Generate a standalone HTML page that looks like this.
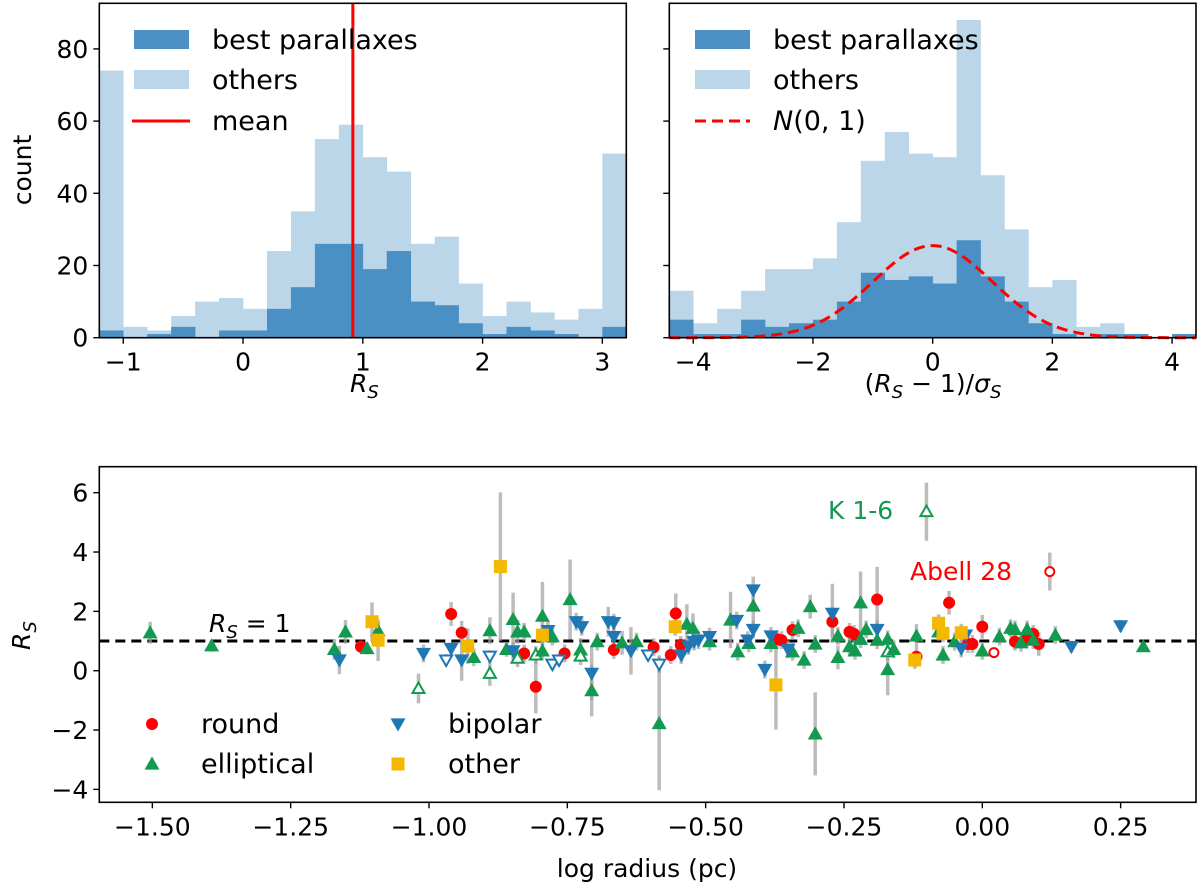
<!DOCTYPE html>
<html><head><meta charset="utf-8"><style>
html,body{margin:0;padding:0;background:#fff;}
svg{display:block;font-family:"DejaVu Sans","Liberation Sans",sans-serif;}
</style></head><body>
<svg id="fig" width="1200" height="888" viewBox="0 0 1200 888" xmlns="http://www.w3.org/2000/svg">
<g id="g1"></g>
<g id="g2"></g>
<g id="g3"></g>
</svg>
<script>
// ---- histogram data ----
const hist1Edges0 = -1.2, hist1BinW = 0.2;
const hist1Others = [74,3,2,6,10,11,8,24,35,55,59,50,46,26,28,15,6,10,7,5,8,51];
const hist1Best   = [2,0,1,3,0,2,2,8,14,26,26,19,24,10,9,4,1,3,2,1,0,3];
const meanValue = 0.917;
const hist1XTicks = [-1,0,1,2,3];
const histYTicks = [0,20,40,60,80];

const hist2Edges0 = -4.4, hist2BinW = 0.4;
const hist2Others = [13,4,8,13,19,19,22,32,49,57,51,50,88,45,30,14,16,3,4,1,0,1];
const hist2Best   = [5,1,1,5,3,4,5,10,18,16,17,15,27,17,10,4,1,0,1,1,0,1];
const gaussPeak = 25.5;
const hist2XTicks = [-4,-2,0,2,4];

// ---- scatter data: [logR, Rs, err, open] ----
const roundPts = [[-1.123,0.81,0.2,0],[-0.960,1.91,0.4,0],[-0.941,1.28,0.4,0],[-0.828,0.58,0.3,0],[-0.807,-0.54,0.9,0],[-0.755,0.58,0.3,0],[-0.666,0.70,0.3,0],[-0.594,0.79,0.3,0],[-0.563,0.53,0.3,0],[-0.554,1.93,0.67,0],[-0.545,0.87,0.3,0],[-0.371,1.06,0.3,0],[-0.363,1.03,0.3,0],[-0.343,1.37,0.3,0],[-0.271,1.65,0.5,0],[-0.240,1.31,0.3,0],[-0.232,1.24,0.3,0],[-0.190,2.40,1.1,0],[-0.119,0.47,0.3,0],[-0.060,2.29,0.4,0],[-0.026,0.90,0.3,0],[-0.018,0.90,0.3,0],[0.000,1.48,0.4,0],[0.021,0.61,0.1,1],[0.059,0.98,0.3,0],[0.080,1.06,0.3,0],[0.092,1.24,0.3,0],[0.102,0.90,0.4,0],[0.122,3.34,0.64,1]];
const ellipticalPts = [[-1.504,1.28,0.37,0],[-1.393,0.84,0.2,0],[-1.171,0.72,0.35,0],[-1.151,1.31,0.4,0],[-1.112,0.75,0.2,0],[-1.092,1.35,0.3,0],[-1.019,-0.6,0.5,1],[-0.919,0.45,0.3,0],[-0.890,1.35,0.45,0],[-0.890,-0.09,0.42,1],[-0.860,0.72,0.25,0],[-0.848,1.73,0.9,0],[-0.840,1.31,0.4,0],[-0.840,0.42,0.3,1],[-0.828,1.31,0.3,0],[-0.807,0.53,0.3,1],[-0.795,1.84,1.15,0],[-0.795,0.67,0.3,0],[-0.777,1.15,0.3,0],[-0.745,2.40,1.35,0],[-0.726,0.70,0.4,0],[-0.726,0.49,0.3,1],[-0.706,-0.67,0.87,0],[-0.696,0.98,0.3,0],[-0.651,0.94,0.4,0],[-0.625,0.98,0.3,0],[-0.584,-1.78,2.25,0],[-0.534,1.57,0.67,0],[-0.523,1.43,0.5,0],[-0.493,0.98,0.3,0],[-0.455,1.71,0.95,0],[-0.442,0.64,0.3,0],[-0.422,0.92,0.3,0],[-0.414,2.18,0.6,0],[-0.382,0.92,0.3,0],[-0.343,0.64,0.3,0],[-0.333,1.43,0.3,0],[-0.322,0.36,0.3,0],[-0.311,2.16,0.4,0],[-0.302,-2.13,1.4,0],[-0.302,0.90,0.3,0],[-0.261,1.17,0.3,0],[-0.261,0.45,0.4,0],[-0.240,0.81,0.3,0],[-0.230,0.67,0.3,0],[-0.220,2.29,1.05,0],[-0.220,1.06,0.3,0],[-0.210,1.39,0.3,0],[-0.190,1.03,0.3,0],[-0.171,1.06,0.3,0],[-0.171,0.64,0.3,1],[-0.171,0.04,0.87,0],[-0.160,0.72,0.3,0],[-0.119,1.17,0.4,0],[-0.101,5.36,0.98,1],[-0.079,1.31,0.3,0],[-0.071,0.53,0.3,0],[-0.050,0.98,0.3,0],[0.000,0.67,0.3,0],[0.031,1.15,0.3,0],[0.051,1.43,0.3,0],[0.059,1.39,0.3,0],[0.070,0.94,0.3,0],[0.081,1.39,0.3,0],[0.092,1.03,0.3,0],[0.132,1.20,0.3,0],[0.291,0.81,0.1,0]];
const bipolarPts = [[-1.162,0.36,0.48,0],[-1.010,0.58,0.3,0],[-0.969,0.36,0.2,1],[-0.960,0.75,0.2,0],[-0.941,0.36,0.7,0],[-0.890,0.49,0.2,1],[-0.848,0.67,0.3,0],[-0.785,1.35,0.3,0],[-0.777,0.22,0.2,1],[-0.765,0.36,0.2,1],[-0.734,1.65,0.3,0],[-0.724,1.48,0.3,0],[-0.706,-0.09,0.9,0],[-0.676,1.65,0.5,0],[-0.666,1.62,0.3,0],[-0.666,1.15,0.3,0],[-0.635,0.67,0.8,0],[-0.604,0.53,0.2,1],[-0.584,0.22,0.3,1],[-0.544,0.53,0.3,0],[-0.531,0.83,0.3,0],[-0.521,0.98,0.3,0],[-0.513,1.03,0.3,0],[-0.493,1.15,0.3,0],[-0.444,1.69,0.3,0],[-0.424,1.03,0.3,0],[-0.414,2.72,0.45,0],[-0.414,1.39,0.3,0],[-0.393,0.04,0.3,0],[-0.382,1.17,0.3,0],[-0.351,0.72,0.3,0],[-0.271,1.93,1.0,0],[-0.190,1.39,0.3,0],[-0.038,0.75,0.3,0],[-0.030,1.20,0.3,0],[0.161,0.81,0.2,0],[0.250,1.51,0.2,0]];
const otherPts = [[-1.103,1.65,0.65,0],[-1.092,1.03,0.7,0],[-0.930,0.83,0.6,0],[-0.871,3.51,2.5,0],[-0.795,1.2,0.3,0],[-0.555,1.48,0.3,0],[-0.373,-0.48,1.5,0],[-0.122,0.36,0.3,0],[-0.079,1.60,0.3,0],[-0.071,1.26,0.3,0],[-0.038,1.28,0.3,0]];
const scatterXTicks = [-1.5,-1.25,-1.0,-0.75,-0.5,-0.25,0,0.25];
const scatterXTickLabels = ["\u22121.50","\u22121.25","\u22121.00","\u22120.75","\u22120.50","\u22120.25","0.00","0.25"];
const scatterYTicks = [-4,-2,0,2,4,6];

const NS="http://www.w3.org/2000/svg";
function mk(parent,tag,attrs,text){const e=document.createElementNS(NS,tag);for(const k in attrs)e.setAttribute(k,attrs[k]);if(text!==undefined)e.textContent=text;parent.appendChild(e);return e;}
const fmt=v=>v<0?"\u2212"+Math.abs(v):String(v);
const BLUE_D="#4a90c4", BLUE_L="#bcd6e9", RED="#ff0000", GREEN="#129a50", BBLUE="#1f77b4", ORANGE="#f5b800";

function axisFrame(g,L,T,R,B){
  const f=mk(g,'rect',{x:L,y:T,width:R-L,height:B-T,fill:'none',stroke:'#000','stroke-width':1.6});
  
  
}
function xTick(g,x,B,label,name){
  const t=mk(g,'line',{x1:x,x2:x,y1:B,y2:B+6,stroke:'#000','stroke-width':1.4});
  
  
  const tx=mk(g,'text',{x:x,y:B+33,'text-anchor':'middle','font-size':25},label);
  
  
}
function yTick(g,y,L,label,name){
  const t=mk(g,'line',{x1:L-6,x2:L,y1:y,y2:y,stroke:'#000','stroke-width':1.4});
  
  
  if(label!==null){
    const tx=mk(g,'text',{x:L-11,y:y+9,'text-anchor':'end','font-size':25},label);
    
    
  }
}

function histPanel(g,L,R,xmin,xmax,edge0,bw,others,best,xticks,showYLabels,prefix){
  const T=3.3,B=337.7,yPer=3.61;
  const sx=v=>L+(v-xmin)/(xmax-xmin)*(R-L);
  const sy=c=>B-c*yPer;
  others.forEach((c,i)=>{if(c<=0)return;
    const r=mk(g,'rect',{x:sx(edge0+i*bw),y:sy(c),width:sx(edge0+(i+1)*bw)-sx(edge0+i*bw)+0.3,height:B-sy(c),fill:BLUE_L});
    
    
  });
  best.forEach((c,i)=>{if(c<=0)return;
    const r=mk(g,'rect',{x:sx(edge0+i*bw),y:sy(c),width:sx(edge0+(i+1)*bw)-sx(edge0+i*bw)+0.3,height:B-sy(c),fill:BLUE_D});
    
    
  });
  xticks.forEach(v=>xTick(g,sx(v),B,fmt(v),prefix+'-x'));
  histYTicks.forEach(v=>yTick(g,sy(v),L,showYLabels?String(v):null,prefix+'-y'));
  return {sx,sy,T,B};
}

// panel 1
const g1=document.getElementById('g1');
const p1=histPanel(g1,99.3,626.3,-1.2,3.2,hist1Edges0,hist1BinW,hist1Others,hist1Best,hist1XTicks,true,'hist1');
const ml=mk(g1,'line',{x1:p1.sx(meanValue),x2:p1.sx(meanValue),y1:p1.T,y2:p1.B,stroke:RED,'stroke-width':3});


axisFrame(g1,99.3,3.3,626.3,337.7);
{
  const a=mk(g1,'rect',{x:134,y:30,width:55,height:19,fill:BLUE_D});
  
  const b=mk(g1,'rect',{x:134,y:70,width:55,height:19,fill:BLUE_L});
  
  const c=mk(g1,'line',{x1:132,x2:190,y1:121,y2:121,stroke:RED,'stroke-width':3});
  
  [["best parallaxes",49],["others",89],["mean",130]].forEach(([t,y])=>{
    const e=mk(g1,'text',{x:212,y:y,'font-size':27},t);
    
    
  });
}
const yl1=mk(g1,'text',{x:0,y:0,'font-size':25,'text-anchor':'middle',transform:'translate(31,170) rotate(-90)'},'count');

{
  const e=mk(g1,'text',{x:350,y:392,'font-size':25,'font-style':'italic'});
  
  mk(e,'tspan',{},'R');mk(e,'tspan',{'font-size':18,dy:6},'S');
}

// panel 2
const g2=document.getElementById('g2');
const p2=histPanel(g2,669.3,1196,-4.4,4.4,hist2Edges0,hist2BinW,hist2Others,hist2Best,hist2XTicks,false,'hist2');
{
  let d='';
  for(let i=0;i<=200;i++){const x=-4.4+8.8*i/200;const y=gaussPeak*Math.exp(-x*x/2);d+=(i?'L':'M')+p2.sx(x).toFixed(1)+','+p2.sy(y).toFixed(1);}
  const c=mk(g2,'path',{d:d,fill:'none',stroke:RED,'stroke-width':3,'stroke-dasharray':'11,6'});
  
}
axisFrame(g2,669.3,3.3,1196,337.7);
{
  const a=mk(g2,'rect',{x:695,y:30,width:55,height:19,fill:BLUE_D});
  
  const b=mk(g2,'rect',{x:695,y:70,width:55,height:19,fill:BLUE_L});
  
  const c=mk(g2,'line',{x1:695,x2:750,y1:121,y2:121,stroke:RED,'stroke-width':3,'stroke-dasharray':'11,6'});
  
  [["best parallaxes",49],["others",89]].forEach(([t,y])=>{
    const e=mk(g2,'text',{x:773,y:y,'font-size':27},t);
    
    
  });
  const n=mk(g2,'text',{x:773,y:130,'font-size':27});
  
  mk(n,'tspan',{'font-style':'italic'},'N');mk(n,'tspan',{},'(0, 1)');
}
{
  const e=mk(g2,'text',{x:933,y:392,'font-size':25,'text-anchor':'middle'});
  
  mk(e,'tspan',{},'(');mk(e,'tspan',{'font-style':'italic'},'R');mk(e,'tspan',{'font-size':18,dy:6,'font-style':'italic'},'S');
  mk(e,'tspan',{dy:-6},' \u2212 1)/');mk(e,'tspan',{'font-style':'italic'},'\u03c3');mk(e,'tspan',{'font-size':18,dy:6,'font-style':'italic'},'S');
}

// panel 3 scatter
const g3=document.getElementById('g3');
const L3=99.3,R3=1196,T3=466.7,B3=802.3;
const sx3=v=>429+(v+1)*553.3;
const sy3=v=>670.7-v*29.67;
{
  const h=mk(g3,'line',{x1:L3,x2:R3,y1:sy3(1),y2:sy3(1),stroke:'#000','stroke-width':3,'stroke-dasharray':'10,6'});
  
}
const allSets=[[roundPts,'round',RED],[ellipticalPts,'elliptical',GREEN],[bipolarPts,'bipolar',BBLUE],[otherPts,'other',ORANGE]];
allSets.forEach(([pts,name])=>pts.forEach(p=>{
  const e=mk(g3,'line',{x1:sx3(p[0]),x2:sx3(p[0]),y1:sy3(p[1]-p[2]),y2:sy3(p[1]+p[2]),stroke:'#a0a0a0','stroke-opacity':0.7,'stroke-width':3.5});
  
  
}));
function marker(g,kind,x,y,color,open){
  const st=open?{fill:'#fff',stroke:color,'stroke-width':2}:{fill:color};
  let e;
  if(kind==='round'){e=mk(g,'circle',Object.assign({cx:x,cy:y,r:open?4.5:6},st));}
  else if(kind==='elliptical'){const s=open?6:7.5;e=mk(g,'polygon',Object.assign({points:`${x},${y-s} ${x-s},${y+s*0.75} ${x+s},${y+s*0.75}`},st));}
  else if(kind==='bipolar'){const s=open?6:7.5;e=mk(g,'polygon',Object.assign({points:`${x},${y+s} ${x-s},${y-s*0.75} ${x+s},${y-s*0.75}`},st));}
  else {e=mk(g,'rect',Object.assign({x:x-6.5,y:y-6.5,width:13,height:13},st));}
  return e;
}
allSets.forEach(([pts,name,color])=>pts.forEach(p=>{
  const m=marker(g3,name,sx3(p[0]),sy3(p[1]),color,p[3]);
  
  
}));
axisFrame(g3,L3,T3,R3,B3);
scatterXTicks.forEach((v,i)=>xTick(g3,sx3(v),B3,scatterXTickLabels[i],'scatter-x'));
scatterYTicks.forEach(v=>yTick(g3,sy3(v),L3,fmt(v),'scatter-y'));
{
  const k=mk(g3,'text',{x:828,y:519,'font-size':25,fill:GREEN},'K 1-6');
  
  const a=mk(g3,'text',{x:910,y:580,'font-size':25,fill:RED},'Abell 28');
  
  const r=mk(g3,'text',{x:209,y:632,'font-size':25});
  
  mk(r,'tspan',{'font-style':'italic'},'R');mk(r,'tspan',{'font-size':18,dy:6,'font-style':'italic'},'S');mk(r,'tspan',{dy:-6},' = 1');
  const lg=[['round',152,724,RED,201],['elliptical',152,764,GREEN,201],['bipolar',398,724,BBLUE,448],['other',398,764,ORANGE,448]];
  lg.forEach(([n,x,y,c,tx])=>{
    const m=marker(g3,n,x,y,c,0);
    
    
    const t=mk(g3,'text',{x:tx,y:y+9,'font-size':27},n);
    
    
  });
  const xt=mk(g3,'text',{x:647,y:877,'font-size':25,'text-anchor':'middle'},'log radius (pc)');
  
  const yt=mk(g3,'text',{x:0,y:0,'font-size':25,'font-style':'italic',transform:'translate(30,650) rotate(-90)'});
  
  mk(yt,'tspan',{},'R');mk(yt,'tspan',{'font-size':18,dy:6},'S');
}
</script>
</body></html>
